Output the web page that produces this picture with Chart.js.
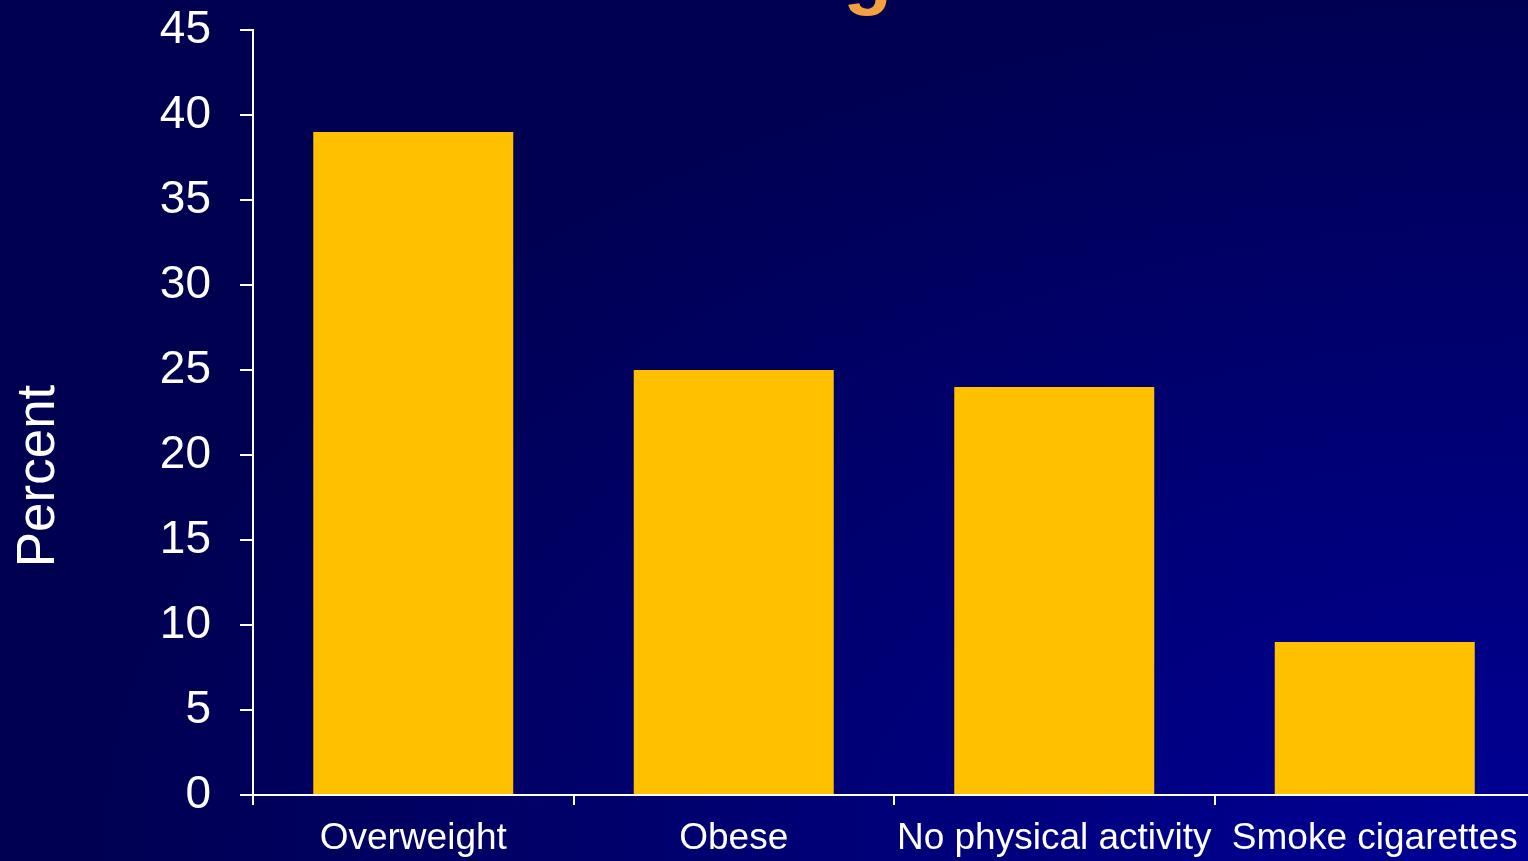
<!DOCTYPE html>
<html>
<head>
<meta charset="utf-8">
<script src="https://cdn.jsdelivr.net/npm/chart.js@4"></script>
<style>
  html, body { margin: 0; padding: 0; overflow: hidden; background: #000050; }
  #wrap { width: 1540px; height: 861px; position: relative; }
</style>
</head>
<body>
<div id="wrap"><canvas id="grafic"></canvas></div>
<script>
// Dades
const categories = ['Overweight', 'Obese', 'No physical activity', 'Smoke cigarettes'];
const percent    = [39, 25, 24, 9];
const yTicks     = [0, 5, 10, 15, 20, 25, 30, 35, 40, 45];

const FONT = '"Liberation Sans", Arial, Helvetica, sans-serif';

// Fons amb degradat i textos fora dels eixos
const pluginFons = {
  id: 'fons',
  beforeDraw(chart) {
    const { ctx, width, height } = chart;
    ctx.save();
    // degradat el·líptic cap a la cantonada inferior dreta
    ctx.translate(1528, height);
    ctx.scale(1, 900 / 1500);
    const g = ctx.createRadialGradient(0, 0, 0, 0, 0, 1500);
    g.addColorStop(0, '#000096');
    g.addColorStop(1, '#000050');
    ctx.fillStyle = g;
    ctx.fillRect(-1600, -1500, 1700, 1600);
    ctx.restore();
  },
  afterDraw(chart) {
    const { ctx } = chart;
    ctx.save();
    // títol tallat a dalt
    ctx.fillStyle = '#f4a040';
    ctx.font = 'bold 80px ' + FONT;
    ctx.textAlign = 'center';
    ctx.textBaseline = 'alphabetic';
    ctx.fillText('Teenagers', 815, -1);
    // etiqueta eix Y
    ctx.fillStyle = '#ffffff';
    ctx.font = '53px ' + FONT;
    ctx.translate(39, 476);
    ctx.rotate(-Math.PI / 2);
    ctx.textAlign = 'center';
    ctx.textBaseline = 'middle';
    ctx.fillText('Percent', 0, 0);
    ctx.restore();
  }
};

new Chart(document.getElementById('grafic'), {
  type: 'bar',
  data: {
    labels: categories,
    datasets: [{
      label: 'Percent',
      data: percent,
      backgroundColor: '#ffc000',
      borderWidth: 0,
      barPercentage: 0.624,
      categoryPercentage: 1,
    }]
  },
  options: {
    animation: false,
    responsive: true,
    maintainAspectRatio: false,
    layout: { padding: { top: 30, right: 5, left: 0, bottom: 0 } },
    plugins: {
      legend: { display: false },
      title: { display: false },
      tooltip: { enabled: false },
    },
    scales: {
      x: {
        afterFit: s => { s.height = 66; s.paddingLeft = 0; s.paddingRight = 0; },
        border: { color: '#ffffff', width: 2 },
        grid: {
          offset: true,
          drawOnChartArea: false,
          color: '#ffffff',
          lineWidth: 2,
          tickLength: 10,
        },
        ticks: {
          color: '#ffffff',
          font: { size: 37, family: FONT },
          padding: 12,
          maxRotation: 0,
          autoSkip: false,
        },
      },
      y: {
        min: 0,
        max: 45,
        afterFit: s => { s.width = 253; s.paddingTop = 0; s.paddingBottom = 0; },
        afterBuildTicks: s => { s.ticks = yTicks.map(v => ({ value: v })); },
        border: { color: '#ffffff', width: 2 },
        grid: {
          drawOnChartArea: false,
          color: '#ffffff',
          lineWidth: 2,
          tickLength: 13,
        },
        ticks: {
          color: '#ffffff',
          font: { size: 46, family: FONT },
          padding: 29,
        },
      }
    }
  },
  plugins: [pluginFons]
});
</script>
</body>
</html>
